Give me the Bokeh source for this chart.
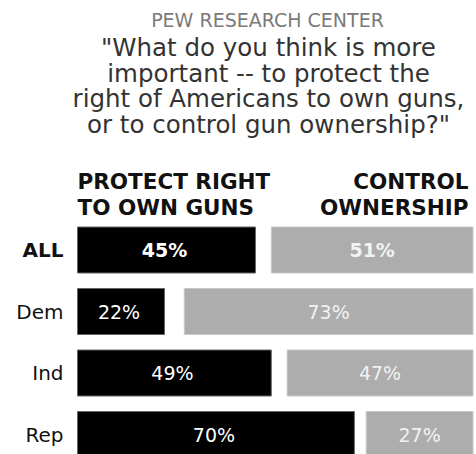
from bokeh.plotting import figure
from bokeh.models import Range1d, ColumnDataSource
from bokeh.core.properties import value
from bokeh.embed import file_html
from bokeh.resources import INLINE

# ---- data ----
groups = ["ALL", "Dem", "Ind", "Rep"]
protect = [45, 22, 49, 70]
control = [51, 73, 47, 27]
source_line = "PEW RESEARCH CENTER"
question = ["\"What do you think is more",
            "important -- to protect the",
            "right of Americans to own guns,",
            "or to control gun ownership?\""]
header_left = ["PROTECT RIGHT", "TO OWN GUNS"]
header_right = ["CONTROL", "OWNERSHIP"]

W, H = 476, 454
FONT = "DejaVu Sans"

# pixel helpers (image coordinates -> data coordinates), layout only
PX_PER_PCT = 3.955
X0_IMG = 77.0
ROW0_IMG = 249.5
ROW_STEP = 61.5


def X(px):
    return (px - X0_IMG) / PX_PER_PCT


def Y(py):
    return (py - ROW0_IMG) / ROW_STEP


p = figure(width=W, height=H, output_backend="svg", toolbar_location=None,
           x_range=Range1d(X(0), X(W)), y_range=Range1d(Y(H), Y(0)),
           min_border=0, outline_line_color=None)
p.axis.visible = False
p.grid.visible = False
p.background_fill_color = "white"
p.border_fill_color = "white"

rows = list(range(len(groups)))
src = ColumnDataSource(dict(
    y=rows,
    left0=[0] * len(groups),
    protect=protect,
    cleft=[100 - c for c in control],
    cright=[100] * len(groups),
))

bh = 46 / ROW_STEP
p.hbar(y="y", left="left0", right="protect", height=bh, source=src,
       fill_color="#000000", line_color="#666666", line_width=1)
p.hbar(y="y", left="cleft", right="cright", height=bh, source=src,
       fill_color="#adadad", line_color="#c8c8c8", line_width=1)

# value labels and row labels
for i in rows:
    bold = i == 0
    style = "bold" if bold else "normal"
    size = "19px"
    p.text(x=[protect[i] / 2 - 0.5], y=[i], text=[f"{protect[i]}%"],
           text_color="white", text_font=value(FONT), text_font_size=size,
           text_font_style=style, text_align="center", text_baseline="middle")
    p.text(x=[100 - control[i] / 2], y=[i], text=[f"{control[i]}%"],
           text_color="#f2f2f2", text_font=value(FONT), text_font_size=size,
           text_font_style=style, text_align="center", text_baseline="middle")
    p.text(x=[X(63)], y=[i], text=[groups[i]],
           text_color="#111111", text_font=value(FONT), text_font_size="20px",
           text_font_style=style, text_align="right", text_baseline="middle")

# headers
for k, (a, b) in enumerate(zip(header_left, header_right)):
    yy = Y(181 + 26 * k)
    p.text(x=[X(77)], y=[yy], text=[a], text_color="#111111",
           text_font=value(FONT), text_font_size="21.5px", text_font_style="bold",
           text_align="left", text_baseline="middle")
    p.text(x=[X(468)], y=[yy], text=[b], text_color="#111111",
           text_font=value(FONT), text_font_size="21.5px", text_font_style="bold",
           text_align="right", text_baseline="middle")

# source + question
p.text(x=[X(267)], y=[Y(19)], text=[source_line], text_color="#7a7a7a",
       text_font=value(FONT), text_font_size="19px", text_align="center",
       text_baseline="middle")
for k, line in enumerate(question):
    p.text(x=[X(268)], y=[Y(47 + 25.5 * k)], text=[line], text_color="#333333",
           text_font=value(FONT), text_font_size="24.5px", text_align="center",
           text_baseline="middle")

open("out.html", "w").write(file_html(p, INLINE))
